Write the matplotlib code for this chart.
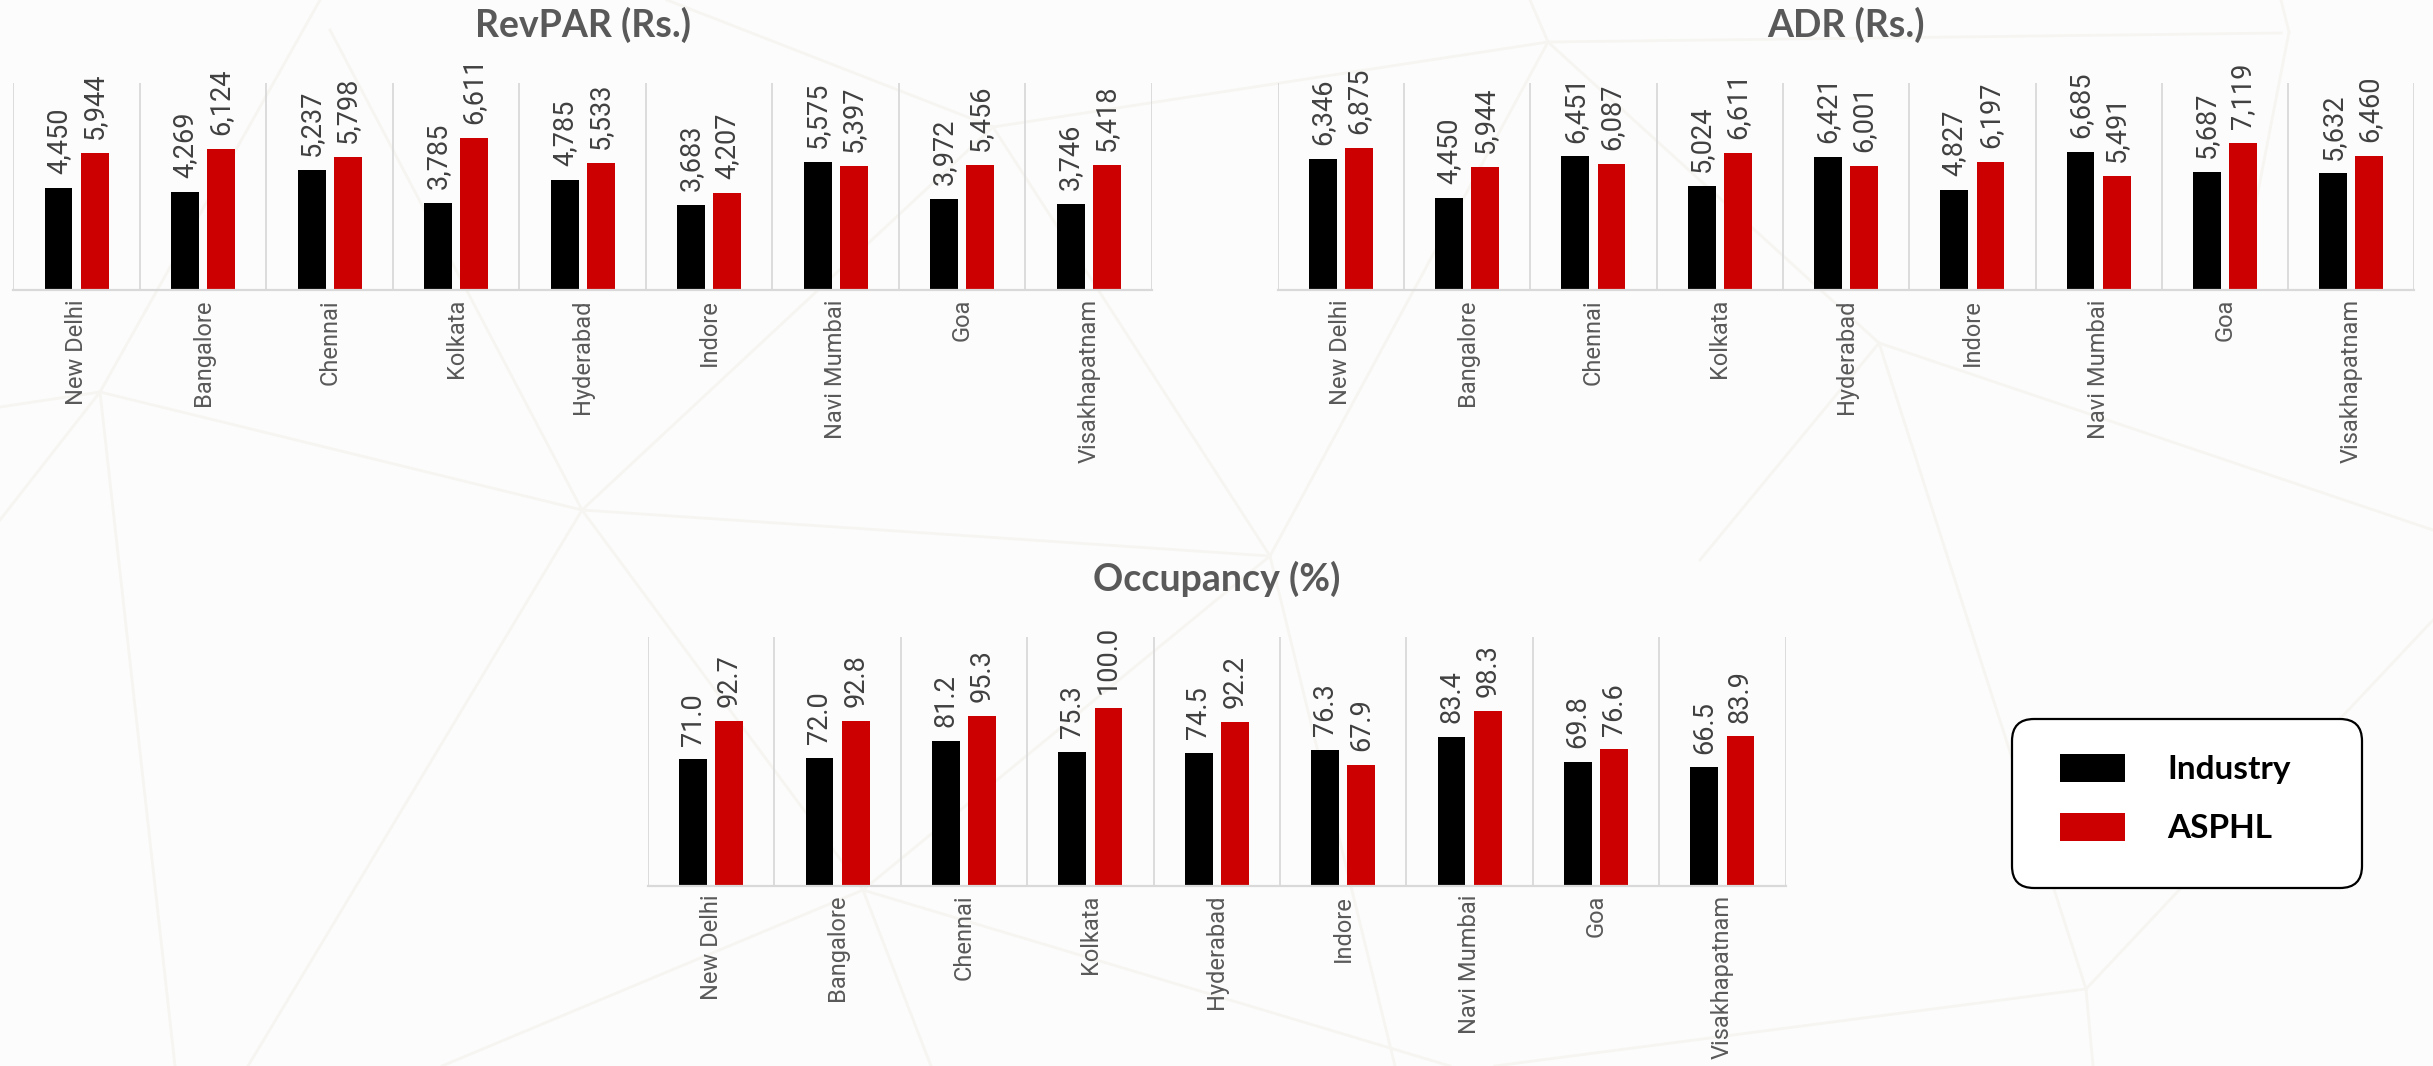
import matplotlib.pyplot as plt
import numpy as np
from matplotlib.lines import Line2D
from matplotlib.patches import FancyBboxPatch
from matplotlib.transforms import IdentityTransform

cities = ['New Delhi', 'Bangalore', 'Chennai', 'Kolkata', 'Hyderabad',
          'Indore', 'Navi Mumbai', 'Goa', 'Visakhapatnam']
series = ['Industry', 'ASPHL']
colors = ['#000000', '#cc0000']

revpar_industry = [4450, 4269, 5237, 3785, 4785, 3683, 5575, 3972, 3746]
revpar_asphl = [5944, 6124, 5798, 6611, 5533, 4207, 5397, 5456, 5418]
adr_industry = [6346, 4450, 6451, 5024, 6421, 4827, 6685, 5687, 5632]
adr_asphl = [6875, 5944, 6087, 6611, 6001, 6197, 5491, 7119, 6460]
occ_industry = [71.0, 72.0, 81.2, 75.3, 74.5, 76.3, 83.4, 69.8, 66.5]
occ_asphl = [92.7, 92.8, 95.3, 100.0, 92.2, 67.9, 98.3, 76.6, 83.9]

W, H = 2433, 1066
fig = plt.figure(figsize=(W / 100, H / 100), dpi=100, facecolor='#fcfcfc')

# faint triangle mesh behind everything (pixel coords, y from top)
nodes = {'a': (100, 392), 'b': (582, 510), 'c': (1270, 556), 'd': (1879, 343),
         'e': (1548, 42), 'f': (863, 890), 'g': (2086, 989), 'h': (993, 127)}
edges = [
    ('a', (0, 407)), ('a', (0, 520)), ('a', (175, 1066)), ('a', 'b'), ('a', (320, 0)),
    ('b', (330, 30)), ('b', 'h'), ('b', 'c'), ('b', 'f'), ('b', (248, 1066)),
    ('f', (442, 1066)), ('f', (931, 1066)), ('f', (1450, 1066)), ('c', 'f'),
    ('c', 'e'), ('c', 'h'), ('c', (1395, 1066)), ('h', (667, 0)), ('h', 'e'),
    ('e', (2281, 33)), ('e', (1530, 0)), ('e', 'd'), ('d', (2433, 530)),
    ('d', 'g'), ('d', (1700, 560)), ('g', (2093, 1066)), ('g', (1495, 1066)),
    ('g', (2433, 620)), ((2289, 32), (2250, 233)), ((2289, 32), (2281, 0)),
]
for p, q in edges:
    (x0, y0), (x1, y1) = [nodes[k] if isinstance(k, str) else k for k in (p, q)]
    fig.add_artist(Line2D([x0 / W, x1 / W], [1 - y0 / H, 1 - y1 / H],
                          transform=fig.transFigure, color='#f6f5f1',
                          lw=2, zorder=0))


def draw_panel(rect, ind, asp, ymax, fmt, title):
    ax = fig.add_axes(rect)
    ax.patch.set_alpha(0)
    x = np.arange(len(cities)) + 0.5
    off, w = 0.143, 0.22
    bars = []
    for vals, col, sgn in [(ind, colors[0], -1), (asp, colors[1], 1)]:
        b = ax.bar(x + sgn * off, vals, w, color=col, zorder=3)
        ax.bar_label(b, labels=[fmt(v) for v in vals], rotation=90, padding=10,
                     fontsize=19.5, color='#404040', family='Roboto')
        bars.append(b)
    ax.set_xlim(0, len(cities))
    ax.set_ylim(0, ymax)
    ax.set_yticks([])
    ax.set_xticks(x)
    ax.set_xticklabels(cities, rotation=90, fontsize=17, color='#595959',
                       family='Roboto')
    ax.set_xticks(np.arange(len(cities) + 1), minor=True)
    ax.tick_params(axis='x', which='both', length=0, pad=6.5)
    ax.grid(which='minor', axis='x', color='#d9d9d9', lw=1.3)
    ax.set_axisbelow(True)
    for s in ['left', 'right', 'top']:
        ax.spines[s].set_visible(False)
    ax.spines['bottom'].set_color('#d9d9d9')
    ax.spines['bottom'].set_linewidth(1.6)
    ax.spines['bottom'].set_zorder(4)
    ax.set_title(title, fontsize=27, fontweight='bold', color='#595959',
                 family='Lato', pad=33)
    return bars


def thousands(v):
    return f'{v:,.0f}'


def one_dec(v):
    return f'{v:.1f}'


bars = draw_panel([13.4 / W, 1 - 290 / H, 1138.6 / W, 207 / H],
                  revpar_industry, revpar_asphl, 9000, thousands, 'RevPAR (Rs.)')
draw_panel([1277.7 / W, 1 - 290 / H, 1136.7 / W, 207 / H],
           adr_industry, adr_asphl, 10000, thousands, 'ADR (Rs.)')
draw_panel([648 / W, 1 - 885.7 / H, 1137.6 / W, 249 / H],
           occ_industry, occ_asphl, 140, one_dec, 'Occupancy (%)')

# legend in a rounded box
box = FancyBboxPatch((2012, H - 888), 350, 169,
                     boxstyle='round,pad=0,rounding_size=22',
                     transform=IdentityTransform(), facecolor='white',
                     edgecolor='black', lw=1.6, zorder=5)
fig.add_artist(box)
leg = fig.legend(bars, series, loc='upper left',
                 bbox_to_anchor=(2043 / W, 1 - 737 / H), frameon=False,
                 borderpad=0, handlelength=1.95, handleheight=0.93,
                 handletextpad=1.29, labelspacing=0.85,
                 prop=dict(family='Lato', weight='bold', size=24))
leg.set_zorder(6)

fig.savefig('out.png', dpi=100, facecolor=fig.get_facecolor())
